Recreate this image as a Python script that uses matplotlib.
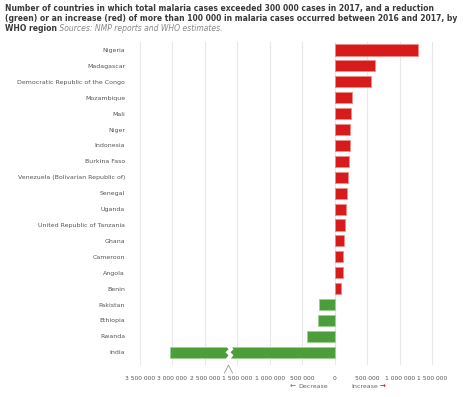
import matplotlib.pyplot as plt
import matplotlib.transforms as mtransforms
import numpy as np
from matplotlib.patches import Polygon
from matplotlib.lines import Line2D

plt.rcParams['font.family'] = ['DejaVu Sans']

# data (change in malaria cases 2016 -> 2017)
countries = ['Nigeria', 'Madagascar', 'Democratic Republic of the Congo', 'Mozambique', 'Mali',
             'Niger', 'Indonesia', 'Burkina Faso', 'Venezuela (Bolivarian Republic of)', 'Senegal',
             'Uganda', 'United Republic of Tanzania', 'Ghana', 'Cameroon', 'Angola', 'Benin',
             'Pakistan', 'Ethiopia', 'Rwanda', 'India']
change = [1280000, 620000, 560000, 270000, 250000, 240000, 230000, 225000, 210000, 190000,
          170000, 160000, 150000, 130000, 130000, 100000, -240000, -250000, -430000, -3040000]
tick_values = [-3500000, -3000000, -2500000, -1500000, -1000000, -500000, 0, 500000, 1000000, 1500000]

red = '#d71a1a'
green = '#4c9e3a'
break_at = -1800000


def fwd(x):
    # squeeze the 1.5M..2.5M stretch of the decrease side into half its width
    x = np.asarray(x, float)
    return np.where(x >= -1.5e6, x, np.where(x >= -2.5e6, -1.5e6 + (x + 1.5e6) * 0.5, x + 0.5e6))


def inv(p):
    p = np.asarray(p, float)
    return np.where(p >= -1.5e6, p, np.where(p >= -2.0e6, -1.5e6 + (p + 1.5e6) * 2, p - 0.5e6))


def fmt(v):
    return '{:,}'.format(abs(int(v))).replace(',', ' ')


fig = plt.figure(figsize=(4.63, 3.97), dpi=100)
ax = fig.add_axes([130 / 463, 1 - 365 / 397, 310 / 463, 323 / 397])
ax.set_xscale('function', functions=(fwd, inv))

y = np.arange(len(countries))
colors = [red if v > 0 else green for v in change]
edges = ['#ee8a8a' if v > 0 else '#9fd08f' for v in change]
ax.barh(y, change, height=0.7, color=colors, edgecolor=edges, linewidth=0.6, zorder=3)

ax.set_xlim(-3650000, 1620000)
ax.set_ylim(19.8, -0.5)
ax.set_yticks(y)
ax.set_yticklabels(countries, fontsize=4.5, color='#555555')
ax.set_xticks(tick_values)
ax.set_xticklabels([fmt(v) for v in tick_values], fontsize=4.3, color='#555555')
ax.tick_params(length=0)
ax.tick_params(axis='y', pad=3.5)
ax.tick_params(axis='x', pad=8)
ax.grid(axis='x', color='#e8e8e8', linewidth=0.8, zorder=0)
for s in ax.spines.values():
    s.set_visible(False)

# break notch cut through the India bar
notch = np.array([(-2, 7), (1, 3), (-2, 0), (1, -3), (-2, -7),
                  (3, -7), (6, -3), (3, 0), (6, 3), (3, 7)]) / 100.0
tr = fig.dpi_scale_trans + mtransforms.ScaledTranslation(break_at, y[-1], ax.transData)
ax.add_patch(Polygon(notch, closed=True, facecolor='white', edgecolor='none', transform=tr, zorder=4))

# little caret under the axis at the break
tr2 = fig.dpi_scale_trans + mtransforms.ScaledTranslation(break_at, 0, ax.get_xaxis_transform())
caret = np.array([(-3, -8), (1, 0), (5, -8)]) / 100.0
ax.add_line(Line2D(caret[:, 0], caret[:, 1], color='#999999', linewidth=0.6, transform=tr2, clip_on=False))

# title
title_kw = dict(fontsize=5.5, fontweight='bold', color='#3a3a3a', va='top')
fig.text(5 / 463, 1 - 4 / 397, 'Number of countries in which total malaria cases exceeded 300 000 cases in 2017, and a reduction',
         **title_kw)
fig.text(5 / 463, 1 - 14 / 397, '(green) or an increase (red) of more than 100 000 in malaria cases occurred between 2016 and 2017, by',
         **title_kw)
t3 = fig.text(5 / 463, 1 - 24 / 397, 'WHO region', **title_kw)
ax.annotate(' Sources: NMP reports and WHO estimates.', xy=(1, 1), xycoords=t3, va='top', ha='left',
            fontsize=5.5, style='italic', color='#888888', annotation_clip=False)

# legend under the axis
fig.text(296 / 463, 1 - 386 / 397, '\u2190', fontsize=5, color=green, ha='right', va='center', fontweight='bold')
fig.text(298 / 463, 1 - 386 / 397, 'Decrease', fontsize=4.5, color='#666666', ha='left', va='center')
fig.text(378 / 463, 1 - 386 / 397, 'Increase', fontsize=4.5, color='#666666', ha='right', va='center')
fig.text(380 / 463, 1 - 386 / 397, '\u2192', fontsize=5, color=red, ha='left', va='center', fontweight='bold')

fig.savefig('out.png', dpi=100)
